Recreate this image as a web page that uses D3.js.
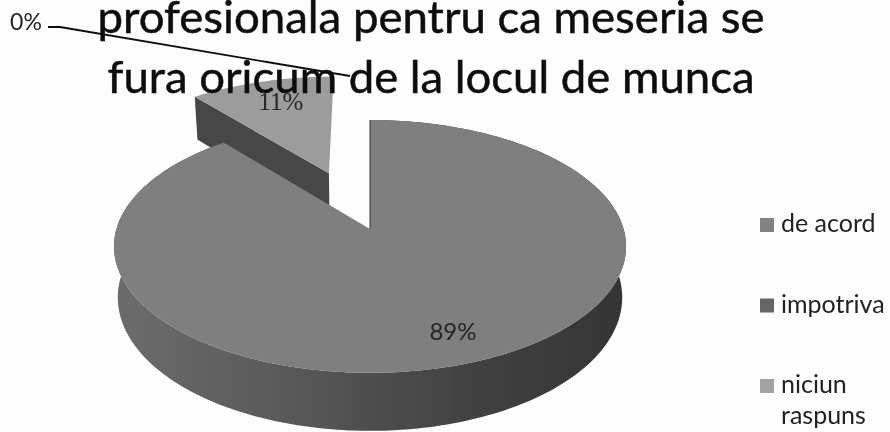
<!DOCTYPE html>
<html><head><meta charset="utf-8">
<script src="https://cdn.jsdelivr.net/npm/d3@7"></script>
<style>html,body{margin:0;padding:0;background:#fdfdfd}svg{display:block}</style>
</head><body><svg id="c" width="890" height="432"></svg>
<script>
const categories = ["de acord", "impotriva", "niciun raspuns"];
const values = [89, 0, 11];
const percentLabels = ["89%", "0%", "11%"];
const titleLines = ["profesionala pentru ca meseria se", "fura oricum de la locul de munca"];
const legendLines = [["de acord"], ["impotriva"], ["niciun", "raspuns"]];
const topColors = ["#7f7f7f", "#5f5f5f", "#9c9c9c"];
const legendColors = ["#828282", "#666666", "#a2a2a2"];

const svg = d3.select("#c");
const defs = svg.append("defs");
const blur = defs.append("filter").attr("id", "soft");
blur.append("feGaussianBlur").attr("stdDeviation", 0.6);
const grad = defs.append("linearGradient").attr("id", "side")
  .attr("gradientUnits", "userSpaceOnUse").attr("x1", 115).attr("x2", 627).attr("y1", 0).attr("y2", 0);
[[0, "#6c6c6c"], [0.3, "#5b5b5b"], [0.65, "#444444"], [1, "#343434"]].forEach(([o, c]) =>
  grad.append("stop").attr("offset", o).attr("stop-color", c));

const cx = 370, cy = 229, R = 253.6, S = 124, K = 0.138, D = 50;
function proj(u, v, low) {
  const w = 1 + K * v, f = low ? 0.985 : 1;
  return [cx + f * R * u / w, cy + (-S * v + (low ? D : 0)) / w];
}
const pie = d3.pie().sort(null)(values);
const sliceOf = i => pie[i];
const line = d3.line();
function rim(a0, a1, ox, oy, low) {
  const n = Math.max(2, Math.ceil(Math.abs(a1 - a0) / 0.02));
  return d3.range(n + 1).map(i => {
    const a = a0 + (a1 - a0) * i / n;
    return proj(ox + Math.sin(a), oy + Math.cos(a), low);
  });
}
function explode(s, e) {
  const m = (s.startAngle + s.endAngle) / 2;
  return [e * Math.sin(m), e * Math.cos(m)];
}
const art = svg.append("g").attr("filter", "url(#soft)");

// small exploded slice: cut face, then top
const small = sliceOf(2);
const [ox, oy] = explode(small, 0.51);
art.append("path").attr("fill", "#474747").attr("d", line([
  proj(ox, oy, false), proj(ox + Math.sin(small.startAngle), oy + Math.cos(small.startAngle), false),
  proj(ox + Math.sin(small.startAngle), oy + Math.cos(small.startAngle), true), proj(ox, oy, true)]) + "Z");
art.append("path").attr("fill", topColors[2])
  .attr("d", line([proj(ox, oy, false), ...rim(small.startAngle, small.endAngle, ox, oy, false)]) + "Z");

// large slice: side wall, then top
const big = sliceOf(0);
art.append("path").attr("fill", "url(#side)").attr("d", line([
  ...rim(big.startAngle, big.endAngle, 0, 0, false),
  ...rim(big.endAngle, big.startAngle, 0, 0, true)]) + "Z");
art.append("path").attr("fill", topColors[0])
  .attr("d", line([proj(0, 0, false), ...rim(big.startAngle, big.endAngle, 0, 0, false)]) + "Z");
art.append("path").attr("fill", "none").attr("stroke", "#333").attr("stroke-width", 1)
  .attr("d", line([proj(0, 0, false), proj(Math.sin(big.startAngle), Math.cos(big.startAngle), false)]));

// title
const ink = svg.append("g").attr("filter", "url(#soft)");
ink.selectAll("text.t").data(titleLines).join("text").attr("class", "t")
  .attr("x", 431).attr("y", (d, i) => [33, 93][i])
  .attr("text-anchor", "middle").attr("fill", "#0c0c0c").attr("stroke", "#0c0c0c").attr("stroke-width", 0.5)
  .attr("font-family", "Lato").attr("font-size", 45)
  .attr("textLength", (d, i) => [667, 647][i]).attr("lengthAdjust", "spacingAndGlyphs")
  .text(d => d);

// leader line for 0%
ink.append("path").attr("fill", "none").attr("stroke", "#111").attr("stroke-width", 1.8)
  .attr("d", line([[48, 27], [60, 27], [350, 76]]));

// data labels
const labelPos = [[453, 340], [26, 30], [281, 110]];
ink.selectAll("text.p").data(percentLabels).join("text").attr("class", "p")
  .attr("x", (d, i) => labelPos[i][0]).attr("y", (d, i) => labelPos[i][1])
  .attr("text-anchor", "middle").attr("fill", "#262626")
  .attr("font-family", (d, i) => i === 2 ? "Liberation Serif" : "Lato")
  .attr("font-size", (d, i) => [24, 23, 25][i]).text(d => d);

// legend
const ly = d3.scalePoint().domain(categories).range([225, 386]);
const leg = ink.selectAll("g.l").data(categories).join("g").attr("class", "l")
  .attr("transform", d => `translate(760,${ly(d)})`);
leg.append("rect").attr("x", 0).attr("y", -7).attr("width", 14).attr("height", 14)
  .attr("fill", (d, i) => legendColors[i]);
leg.append("text").attr("x", 21).attr("y", 7).attr("fill", "#222")
  .attr("font-family", "Lato").attr("font-size", 25)
  .selectAll("tspan").data((d, i) => legendLines[i]).join("tspan")
  .attr("x", 21).attr("dy", (d, i) => i ? 31 : 0).text(d => d);
</script></body></html>
